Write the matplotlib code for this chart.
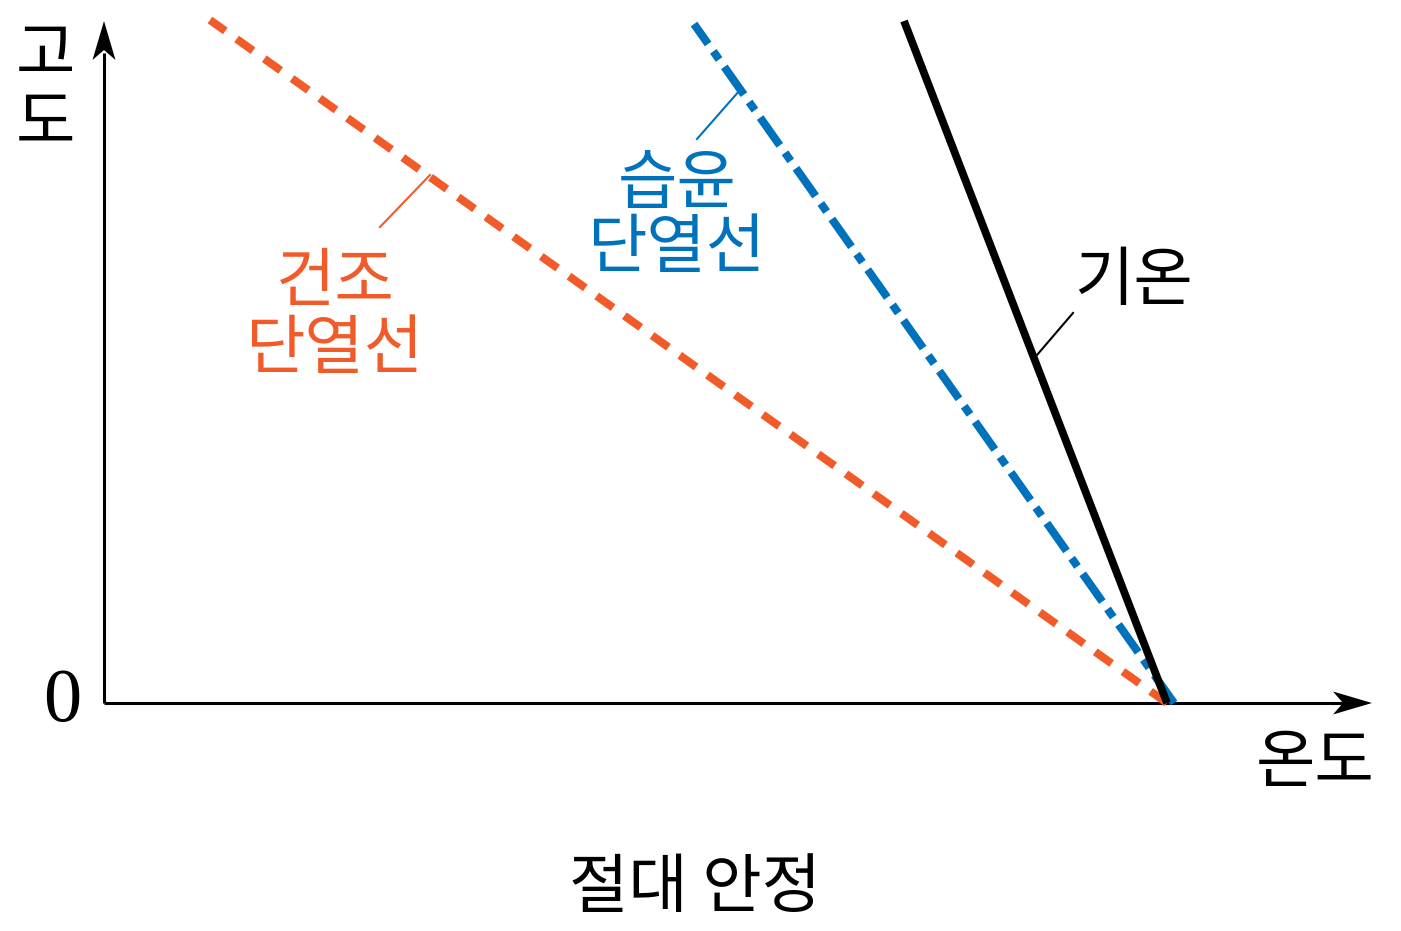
import matplotlib
matplotlib.use("Agg")
import matplotlib.pyplot as plt
from matplotlib.patches import Polygon

plt.rcParams['font.family'] = ['Noto Sans CJK KR', 'DejaVu Sans']
plt.rcParams['lines.scale_dashes'] = False

# ---- data (temperature vs. altitude, arbitrary units) ----
heights_env = [0.0, 6.82]
temps_env = [10.63, 8.00]          # 기온 (environment)
heights_moist = [0.0, 6.79]
temps_moist = [10.70, 5.90]        # 습윤 단열선
heights_dry = [0.0, 6.83]
temps_dry = [10.63, 1.06]          # 건조 단열선

# leader lines for the labels
leader_dry_x = [2.76, 3.26]
leader_dry_y = [4.76, 5.28]
leader_moist_x = [5.93, 6.36]
leader_moist_y = [5.64, 6.13]
leader_env_x = [9.33, 9.69]
leader_env_y = [3.48, 3.90]

ORANGE = '#f15a29'
BLUE = '#0072bc'

fig = plt.figure(figsize=(14.01, 9.31), dpi=100)
ax = fig.add_axes([0, 0, 1, 1])
ax.set_xlim(-1.04, 12.97)
ax.set_ylim(-2.28, 7.03)
ax.axis('off')

# axes
ax.plot([0, 12.4], [0, 0], color='black', lw=2.2, solid_capstyle='butt')
ax.plot([0, 0], [0, 6.5], color='black', lw=2.2, solid_capstyle='butt')
# arrow heads (concave back)
xa = Polygon([(12.68, 0), (12.29, 0.115), (12.39, 0), (12.29, -0.115)],
             closed=True, color='black', lw=0)
ya = Polygon([(0, 6.82), (-0.115, 6.43), (0, 6.53), (0.115, 6.43)],
             closed=True, color='black', lw=0)
ax.add_patch(xa)
ax.add_patch(ya)

# lines
ax.plot(temps_dry, heights_dry, color=ORANGE, lw=5.8, dashes=(14.5, 10.0),
        dash_capstyle='butt')
ax.plot(temps_moist, heights_moist, color=BLUE, lw=5.8,
        dashes=(24.5, 6.5, 7.2, 6.5), dash_capstyle='butt')
ax.plot(temps_env, heights_env, color='black', lw=5.6, solid_capstyle='butt')

# leader lines
ax.plot(leader_dry_x, leader_dry_y, color=ORANGE, lw=1.5)
ax.plot(leader_moist_x, leader_moist_y, color=BLUE, lw=1.5)
ax.plot(leader_env_x, leader_env_y, color='black', lw=1.5)

fs = 46.5
fw = 'light'
dy = -0.08
ax.text(-0.59, 6.55 + dy, '고', fontsize=fs, ha='center', va='center', fontweight=fw)
ax.text(-0.59, 5.87 + dy, '도', fontsize=fs, ha='center', va='center', fontweight=fw)
ax.text(-0.42, 0.0, '0', fontsize=55, ha='center', va='center',
        family=['Liberation Serif'])
ax.text(12.11, -0.53 + dy, '온도', fontsize=fs, ha='center', va='center', fontweight=fw)
ax.text(5.91, -1.78 + dy, '절대 안정', fontsize=fs, ha='center', va='center', fontweight=fw)
ax.text(10.29, 4.29 + dy, '기온', fontsize=fs, ha='center', va='center', fontweight=fw)
ax.text(5.73, 5.26 + dy, '습윤', fontsize=fs, ha='center', va='center', color=BLUE, fontweight=fw)
ax.text(5.72, 4.62 + dy, '단열선', fontsize=fs, ha='center', va='center', color=BLUE, fontweight=fw)
ax.text(2.31, 4.28 + dy, '건조', fontsize=fs, ha='center', va='center', color=ORANGE, fontweight=fw)
ax.text(2.30, 3.61 + dy, '단열선', fontsize=fs, ha='center', va='center', color=ORANGE, fontweight=fw)

fig.savefig('out.png', dpi=100)
